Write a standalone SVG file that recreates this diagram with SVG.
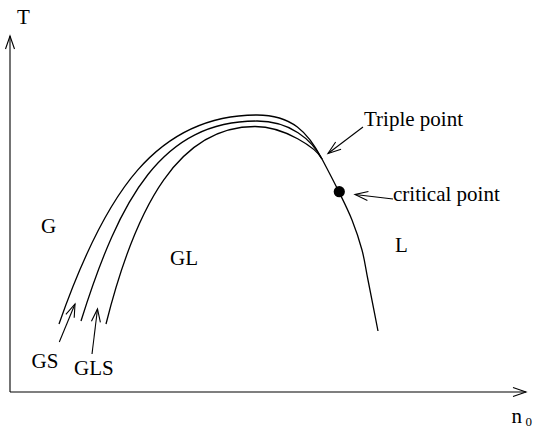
<svg xmlns="http://www.w3.org/2000/svg" width="533" height="430" viewBox="0 0 533 430">
<style>
.lbl{font-family:"Liberation Serif","Times New Roman",serif;font-size:21px;fill:#000}
.ln{fill:none;stroke:#000;stroke-width:1.1}
.cv{fill:none;stroke:#000;stroke-width:1.3;stroke-linejoin:round}
</style>
<defs>
<marker id="ah" markerWidth="16" markerHeight="12" viewBox="-14 -6 16 12" refX="0" refY="0" orient="auto" markerUnits="userSpaceOnUse">
<path d="M-13,-4.5 L0,0 L-13,4.5" fill="none" stroke="#000" stroke-width="1.1"/>
</marker>
</defs>
<rect width="533" height="430" fill="#fff"/>
<g id="axes">
<line class="ln" x1="10" y1="392" x2="10" y2="36" marker-end="url(#ah)"/>
<line class="ln" x1="10" y1="392" x2="526" y2="392" marker-end="url(#ah)"/>
<text class="lbl" x="17" y="24">T</text>
<text class="lbl" x="511.5" y="423">n</text>
<text class="lbl" x="525.5" y="426" style="font-size:13px">0</text>
</g>
<g id="curves">
<path id="curve-outer" class="cv" d="M59,324 C105.2,191.8 157,115 257,115 C292,115 308,132.45 322,159 C326.83,168.17 334,181.83 339,192 C344,202.17 348.17,210.33 352,220 C355.83,229.67 359.33,240 362,250 C364.67,260 365.33,266.5 368,280 C370.67,293.5 374.67,314 378,331"/>
<path id="curve-middle" class="cv" d="M81,321 C119.9,197 162,121 257,121 C290,121 311.75,139.5 322,159"/>
<path id="curve-inner" class="cv" d="M106,324 C136.4,202.75 180,126.5 255,126.5 C285,126.5 316.4,148.4 322,159"/>
</g>
<g id="critical-point">
<circle cx="339.3" cy="191.7" r="5.6" fill="#000"/>
</g>
<g id="connectors">
<line class="ln" x1="363" y1="127" x2="328" y2="153.5" marker-end="url(#ah)"/>
<line class="ln" x1="393" y1="199" x2="355" y2="194.5" marker-end="url(#ah)"/>
<line class="ln" x1="59.3" y1="342" x2="75" y2="304" marker-end="url(#ah)"/>
<line class="ln" x1="92" y1="354" x2="97.5" y2="309" marker-end="url(#ah)"/>
</g>
<g id="labels">
<text class="lbl" x="364" y="126">Triple point</text>
<text class="lbl" x="393" y="201">critical point</text>
<text class="lbl" x="41" y="233">G</text>
<text class="lbl" x="170" y="265">GL</text>
<text class="lbl" x="395" y="252">L</text>
<text class="lbl" x="31.5" y="368">GS</text>
<text class="lbl" x="74" y="375">GLS</text>
</g>
</svg>
